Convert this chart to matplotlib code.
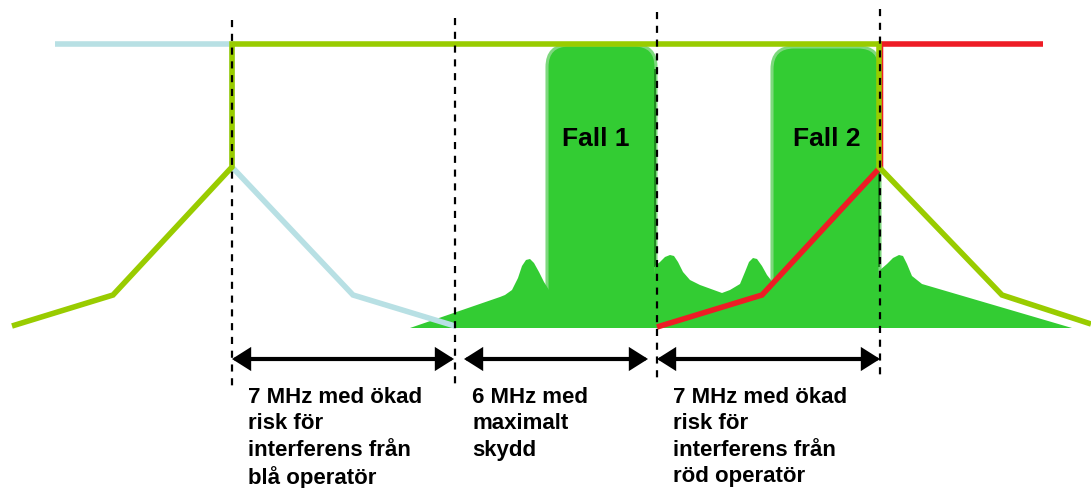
import matplotlib
matplotlib.use("Agg")
import matplotlib.pyplot as plt
from matplotlib.patches import FancyBboxPatch, Polygon, Rectangle

# ---- data (diagram coordinates, x = frequency axis, y = level, top = 0) ----
blue_x = [55, 232, 232, 353, 455]
blue_y = [44, 44, 167, 295, 326]

green_x = [12, 113, 232, 232, 879, 879, 1002, 1091]
green_y = [326, 295, 167, 44, 44, 167, 295, 324]

red_x = [1043, 880.5, 880.5, 762, 657]
red_y = [44, 44, 167, 295, 327]

# spectrum floor (skirts with side-lobe bumps)
floor_x = [410, 500, 505, 512, 518, 522, 526, 530, 534, 539, 544, 549,
           652, 655, 660, 665, 670, 674, 678, 683, 690, 700, 722, 730,
           740, 745, 749, 753, 757, 762, 767, 774, 876, 880, 887, 893,
           899, 903, 907, 912, 922, 1072]
floor_y = [328, 297, 295, 290, 278, 266, 260, 259, 263, 272, 282, 290,
           290, 266, 262, 257, 255, 256, 262, 272, 280, 285, 293, 290,
           284, 272, 262, 258, 259, 266, 275, 284, 284, 270, 264, 258,
           255, 256, 264, 276, 284, 328]
floor_base = 328

# signal blocks
block_left = [547, 772]
block_right = [656, 880]
block_top = [45, 47]
block_labels = ["Fall 1", "Fall 2"]
block_label_x = [595.5, 826.5]
block_label_y = 139

# dashed boundaries
bound_x = [232, 455, 657, 880]
bound_top = [20, 18, 12, 9]
bound_bottom = [388, 385, 382, 377]

# spans
span_start = [232, 464, 657]
span_end = [454, 648, 880]
span_y = 359
span_text_x = [248, 472, 673]
span_texts = ["7 MHz med ökad\nrisk för\ninterferens från\nblå operatör",
              "6 MHz med\nmaximalt\nskydd",
              "7 MHz med ökad\nrisk för\ninterferens från\nröd operatör"]

GREEN_FILL = "#33CC33"
LINE_GREEN = "#99CC00"
LINE_BLUE = "#B8E0E4"
LINE_RED = "#EE1C25"

fig = plt.figure(figsize=(10.91, 4.88), dpi=100)
ax = fig.add_axes([0, 0, 1, 1])
ax.set_xlim(0, 1091)
ax.set_ylim(488, 0)
ax.axis("off")

clip = Rectangle((0, 0), 1091, floor_base, transform=ax.transData)

# blocks
for l, r, t, lab, lx in zip(block_left, block_right, block_top, block_labels, block_label_x):
    p = FancyBboxPatch((l, t), r - l, floor_base + 40 - t,
                       boxstyle="round,pad=0,rounding_size=22",
                       facecolor=GREEN_FILL, edgecolor="#7ED87E", lw=2.2, zorder=1)
    ax.add_patch(p)
    p.set_clip_path(clip)
    ax.plot([r - 1, r - 1], [t + 25, 266], color="#1F8A1F", lw=1.4, zorder=1.5)
    ax.text(lx, block_label_y, lab, ha="center", va="center",
            fontsize=19, fontweight="bold", family="Liberation Sans", zorder=5)

# floor
pts = list(zip(floor_x, floor_y)) + [(floor_x[-1], floor_base), (floor_x[0], floor_base)]
ax.add_patch(Polygon(pts, closed=True, facecolor=GREEN_FILL, edgecolor="none", zorder=2))

lw_line = 4.0
ax.plot(blue_x, blue_y, color=LINE_BLUE, lw=lw_line, solid_capstyle="butt",
        solid_joinstyle="miter", zorder=3)
ax.plot(red_x, red_y, color=LINE_RED, lw=lw_line, solid_capstyle="butt",
        solid_joinstyle="miter", zorder=3)
ax.plot(green_x, green_y, color=LINE_GREEN, lw=lw_line, solid_capstyle="butt",
        solid_joinstyle="miter", zorder=3.5)

# dashed boundaries
for x, t, b in zip(bound_x, bound_top, bound_bottom):
    ax.plot([x, x], [t, b], color="black", lw=1.6, dashes=(3.2, 3.0), zorder=6)

# span arrows
for s, e in zip(span_start, span_end):
    ax.annotate("", xy=(e, span_y), xytext=(s, span_y),
                arrowprops=dict(arrowstyle="<|-|>,head_length=0.95,head_width=0.6",
                                lw=3, color="black", shrinkA=0, shrinkB=0,
                                joinstyle="miter"), zorder=6)

for x, txt in zip(span_text_x, span_texts):
    ax.text(x, 387, txt, ha="left", va="top", fontsize=16, fontweight="bold",
            family="Liberation Sans", linespacing=1.33, zorder=6)

fig.savefig("out.png", dpi=100)
